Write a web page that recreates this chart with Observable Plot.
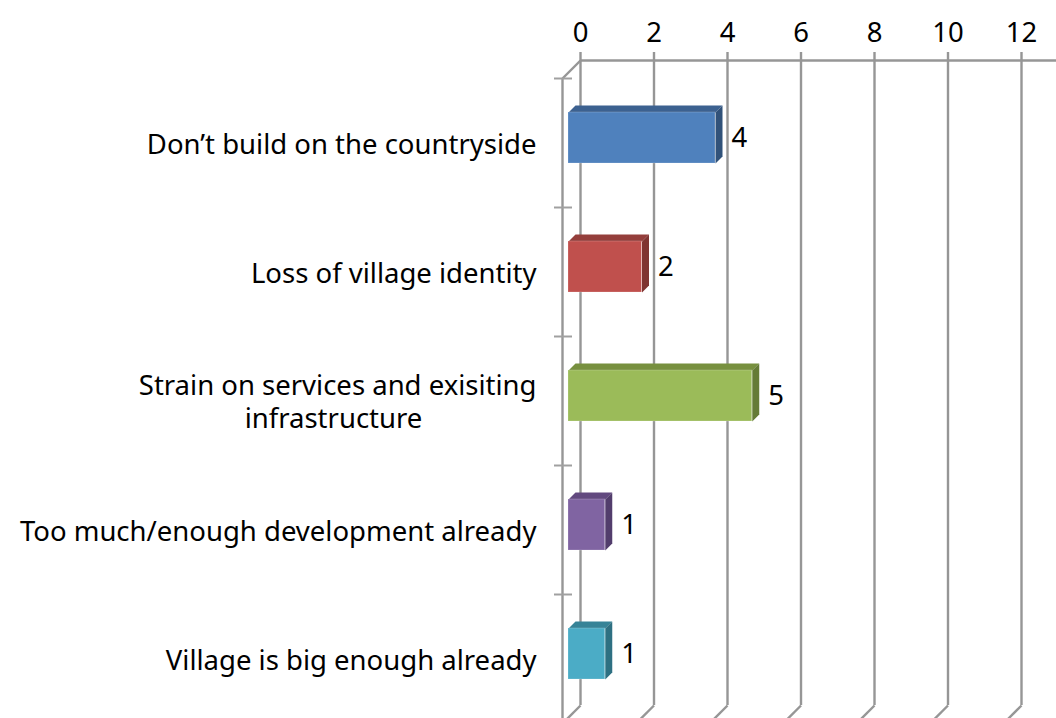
<!DOCTYPE html>
<html>
<head>
<meta charset="utf-8">
<style>html,body{margin:0;padding:0;background:#fff}svg{display:block}</style>
<script src="https://cdn.jsdelivr.net/npm/d3@7"></script>
<script src="https://cdn.jsdelivr.net/npm/@observablehq/plot@0.6"></script>
</head>
<body>
<div id="chart"></div>
<script>
const categories = ["Don’t build on the countryside","Loss of village identity","Too much/enough development already","Village is big enough already"];
const categoryRows = [0, 1, 3, 4];
const wrappedLine1 = "Strain on services and exisiting";
const wrappedLine2 = "infrastructure";
const wrappedRow = 2;
const values = [4, 2, 5, 1, 1];
const frontColors = ["#4f81bd","#c0504d","#9bbb59","#8064a2","#4bacc6"];
const topColors = ["#3c6190","#943e3b","#77903f","#62497f","#368397"];
const sideColors = ["#31527a","#7f3431","#657b36","#523d6c","#2e7082"];
const xTicks = [0,2,4,6,8,10,12];
const rowEdges = [0,1,2,3,4];

const W = 1056, H = 718;
const pxX = 441 / 12, pxY = 129;          // pixels per unit on each scale
const wallX = 18 / pxX, wallY = 18 / pxY; // depth of the chart floor
const barX = 7 / pxX, barY = 7 / pxY;     // depth of a bar
const barFrom = 34 / pxY, barTo = 85 / pxY;
const grid = "#969696";
const fs = 27.5;

const bars = values.map((v, i) => ({v, i, y1: i + barFrom, y2: i + barTo}));
const faces = [];
bars.forEach(b => {
  [[0,b.y1],[barX,b.y1-barY],[b.v+barX,b.y1-barY],[b.v,b.y1]].forEach(([x,y]) => faces.push({x,y,key:"t"+b.i,c:topColors[b.i]}));
  [[b.v,b.y1],[b.v+barX,b.y1-barY],[b.v+barX,b.y2-barY],[b.v,b.y2]].forEach(([x,y]) => faces.push({x,y,key:"s"+b.i,c:sideColors[b.i]}));
});

const plot = Plot.plot({
  width: W, height: H,
  marginLeft: 580, marginRight: W - 1021, marginTop: 60, marginBottom: 0,
  style: {background: "#fff", fontFamily: "'Noto Sans', sans-serif"},
  x: {domain: [0, 12], range: [580, 1021], axis: null},
  y: {domain: [0, 5], range: [78, 723], axis: null},
  color: {type: "identity"},
  marks: [
    Plot.axisX(xTicks, {anchor: "top", tickSize: 9, tickPadding: 10, stroke: grid, strokeWidth: 2.4, strokeOpacity: 1, fontSize: fs, fill: "#000", textStroke: "none", label: null}),
    Plot.ruleY([0], {x1: 0, x2: (W - 580) / pxX, dy: -18, stroke: grid, strokeWidth: 2.4}),
    Plot.ruleX(xTicks, {y1: -wallY, y2: 5 - wallY, stroke: grid, strokeWidth: 2.4}),
    Plot.link(xTicks, {x1: d => d, y1: 5 - wallY, x2: d => d - wallX, y2: 5, stroke: grid, strokeWidth: 2.4}),
    Plot.link([0], {x1: 0, y1: -wallY, x2: -wallX, y2: 0, stroke: grid, strokeWidth: 2.4}),
    Plot.ruleX([0], {x: -wallX, y1: 0, y2: 5, stroke: grid, strokeWidth: 2.4}),
    Plot.ruleY(rowEdges, {y: d => d, x1: -wallX - 8 / pxX, x2: -wallX + 10 / pxX, stroke: "#a0a0a0", strokeWidth: 2}),
    Plot.line(faces, {x: "x", y: "y", z: "key", fill: "c", stroke: "none", dx: -12}),
    Plot.rect(bars, {x1: 0, x2: "v", y1: "y1", y2: "y2", fill: d => frontColors[d.i], stroke: "#fff", strokeOpacity: 0.2, dx: -12}),
    Plot.text(bars, {x: "v", y: d => d.i + 0.5, text: "v", dx: 4, dy: -5, textAnchor: "start", fontSize: fs, fill: "#000"}),
    Plot.text(categories, {x: 0, y: (d, i) => categoryRows[i] + 0.5, text: d => d, dx: -44, dy: 2, textAnchor: "end", fontSize: fs, fill: "#000"}),
    Plot.text([wrappedLine1], {x: 0, y: wrappedRow + 0.5, text: d => d, dx: -44, dy: -15, textAnchor: "end", fontSize: fs, fill: "#000"}),
    Plot.text([wrappedLine2], {x: 0, y: wrappedRow + 0.5, text: d => d, dx: -247, dy: 18, textAnchor: "middle", fontSize: fs, fill: "#000"})
  ]
});
document.getElementById("chart").append(plot);
</script>
</body>
</html>
